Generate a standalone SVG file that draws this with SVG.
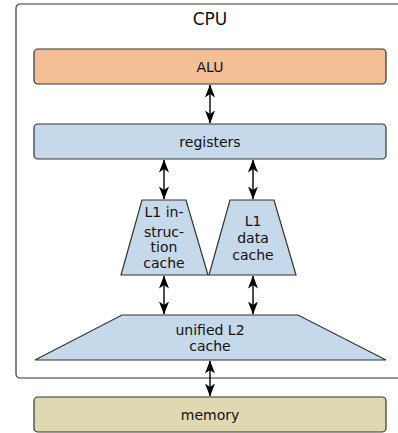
<svg xmlns="http://www.w3.org/2000/svg" width="398" height="433" viewBox="0 0 398 433">
<defs>
<style>
.box{stroke:#333;stroke-width:1.2}
.blue{fill:#c6d9ea}
.lbl{font-family:"DejaVu Sans",sans-serif;font-size:14px;fill:#111;text-anchor:middle}
.conn{stroke:#000;stroke-width:1.4;fill:none;marker-start:url(#ah);marker-end:url(#ah)}
</style>
<marker id="ah" viewBox="0 0 13 11" refX="12.5" refY="5.5" markerWidth="13" markerHeight="11" markerUnits="userSpaceOnUse" orient="auto-start-reverse">
<path d="M0,0.5 L13,5.5 L0,10.5 L3.5,5.5 Z" fill="#000"/>
</marker>
</defs>
<rect width="398" height="433" fill="#fff"/>
<g id="cpu">
<rect x="16" y="4" width="400" height="374" rx="4" fill="none" stroke="#333" stroke-width="1.2"/>
<text x="210" y="24.5" style="font-family:'DejaVu Sans',sans-serif;font-size:17px;fill:#111;text-anchor:middle">CPU</text>
</g>
<g id="alu">
<rect class="box" x="34" y="49" width="352" height="35" rx="4" fill="#f4bf96"/>
<text class="lbl" x="210" y="71.5">ALU</text>
</g>
<g id="registers">
<rect class="box blue" x="34" y="124" width="352" height="35" rx="4"/>
<text class="lbl" x="210" y="146.5">registers</text>
</g>
<g id="l1i">
<polygon class="box blue" points="142,200 186,200 208,275 121,275"/>
<text class="lbl" x="164" y="217">L1 in-</text>
<text class="lbl" x="164" y="236.5">struc-</text>
<text class="lbl" x="164" y="251.5">tion</text>
<text class="lbl" x="164" y="267.5">cache</text>
</g>
<g id="l1d">
<polygon class="box blue" points="230,200 274,200 296,275 209,275"/>
<text class="lbl" x="253" y="225.5">L1</text>
<text class="lbl" x="253" y="243">data</text>
<text class="lbl" x="253" y="259.5">cache</text>
</g>
<g id="l2">
<polygon class="box blue" points="122,315 298,315 386,360 35,360"/>
<text class="lbl" x="210" y="335">unified L2</text>
<text class="lbl" x="210" y="351">cache</text>
</g>
<g id="memory">
<rect class="box" x="34" y="397" width="352" height="35" rx="4" fill="#dfd9b1"/>
<text class="lbl" x="210" y="420">memory</text>
</g>
<g id="connectors">
<line class="conn" x1="210" y1="85" x2="210" y2="123"/>
<line class="conn" x1="164" y1="160" x2="164" y2="199"/>
<line class="conn" x1="253" y1="160" x2="253" y2="199"/>
<line class="conn" x1="164" y1="276" x2="164" y2="314"/>
<line class="conn" x1="253" y1="276" x2="253" y2="314"/>
<line class="conn" x1="210" y1="361" x2="210" y2="396"/>
</g>
</svg>
